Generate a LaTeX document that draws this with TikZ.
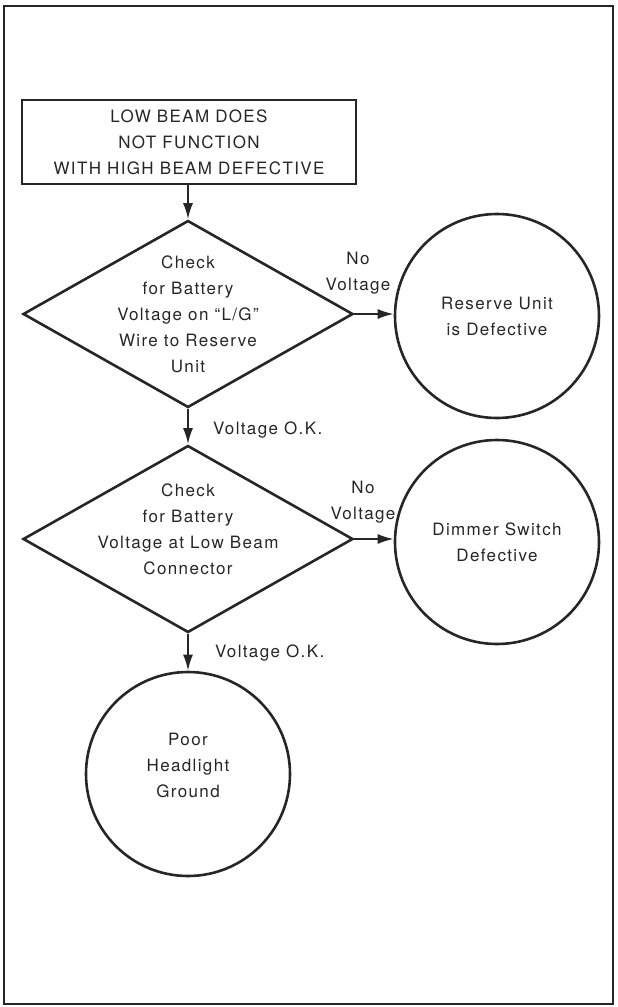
\documentclass[tikz,border=0pt]{standalone}
\usepackage{fontspec}
\setmainfont{TeX Gyre Heros}[LetterSpace=8]
\usepackage{tikz}
\usetikzlibrary{arrows.meta,shapes.geometric}
\definecolor{inkgray}{RGB}{38,38,38}
% text that does not widen the diamond
\newcommand{\dtext}[1]{\smash{\makebox[0pt]{\begin{tabular}{@{}c@{}}#1\end{tabular}}}}

\begin{document}
\begin{tikzpicture}[x=1pt,y=-1pt,
  arr/.style={-{Latex[length=16pt,width=10pt]},line width=2pt,inkgray},
  lab/.style={font=\fontsize{17}{26}\selectfont,align=center,text=inkgray,inner sep=0pt},
  topbox/.style={draw=inkgray,line width=2.6pt,minimum width=334pt,minimum height=84pt,
    font=\fontsize{17}{26}\selectfont,align=center,text=inkgray},
  check/.style={diamond,draw=inkgray,line width=2.6pt,minimum width=330pt,minimum height=187pt,
    inner sep=0pt,font=\fontsize{17}{26}\selectfont,text=inkgray},
  result/.style={circle,draw=inkgray,line width=2.6pt,minimum size=204pt,inner sep=0pt,
    font=\fontsize{17}{26}\selectfont,align=center,text=inkgray}
]
\useasboundingbox (0,0) rectangle (618,1007);
\draw[inkgray,line width=2.4pt] (4,6) rectangle (613,1004);

\node[topbox] (start) at (189,142) {LOW BEAM DOES\\NOT FUNCTION\\WITH HIGH BEAM DEFECTIVE};
\node[check] (chk1) at (188,314) {\raisebox{-12pt}{\dtext{Check\\for Battery\\Voltage on ``L/G''\\Wire to Reserve\\Unit}}};
\node[result] (res1) at (497,316) {Reserve Unit\\is Defective};
\node[check] (chk2) at (188,539) {\raisebox{9pt}{\dtext{Check\\for Battery\\Voltage at Low Beam\\Connector}}};
\node[result] (res2) at (497,542) {Dimmer Switch\\Defective};
\node[result] (res3) at (188,774) {\raisebox{6pt}{\dtext{Poor\\Headlight\\Ground}}};

\node[lab] (nv1) at (358,273) {No\\Voltage};
\node[lab] (nv2) at (363,502) {No\\Voltage};
\node[lab,anchor=west] (ok1) at (213,430) {Voltage O.K.};
\node[lab,anchor=west] (ok2) at (215,653) {Voltage O.K.};

\draw[arr] (start.south -| chk1.north) -- (chk1.north);
\draw[arr] (chk1.east) -- (res1.west |- chk1.east);
\draw[arr] (chk1.south) -- (chk2.north);
\draw[arr] (chk2.east) -- (res2.west |- chk2.east);
\draw[arr] (chk2.south) -- (res3.north);
\end{tikzpicture}
\end{document}
